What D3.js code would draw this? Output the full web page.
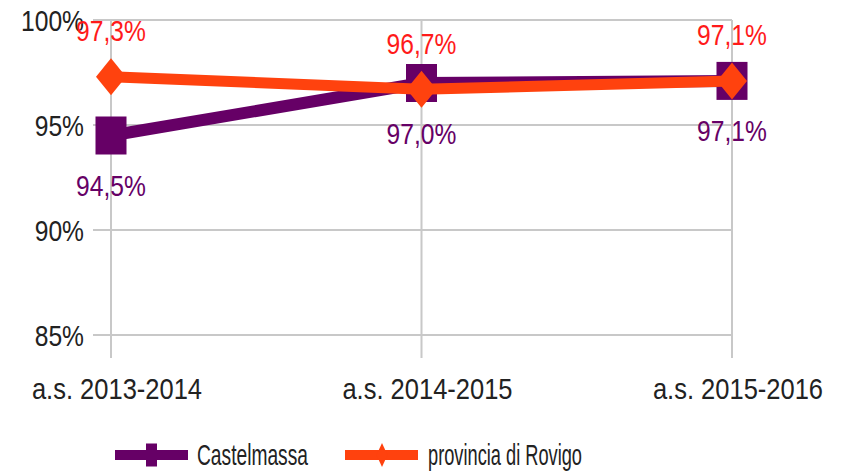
<!DOCTYPE html>
<html>
<head>
<meta charset="utf-8">
<script src="https://cdn.jsdelivr.net/npm/d3@7"></script>
<style>
  body { margin: 0; background: #fff; }
  text { font-family: "Liberation Sans Narrow", "Liberation Sans", Arial, sans-serif; }
</style>
</head>
<body>
<div id="chart"></div>
<script>
// chart data
let categories = ["a.s. 2013-2014", "a.s. 2014-2015", "a.s. 2015-2016"];
let castelmassa = [94.5, 97.0, 97.1];
let rovigo = [97.3, 96.7, 97.1];
let yTicks = [85, 90, 95, 100];
let seriesNames = ["Castelmassa", "provincia di Rovigo"];

const width = 846, height = 472;
const purple = "#660066", orange = "#ff420e";
const grid = "#c8c8c8";

let svg = d3.select("#chart").append("svg")
    .attr("width", width)
    .attr("height", height);

// squeeze text horizontally (narrow font look)
function narrow(sel, k) {
    sel.each(function() {
        let w = this.getComputedTextLength();
        d3.select(this)
            .attr("textLength", w * k)
            .attr("lengthAdjust", "spacingAndGlyphs");
    });
}

let x = d3.scalePoint()
    .domain(categories)
    .range([111, 732]);

let y = d3.scaleLinear()
    .domain([85, 100])
    .range([335, 20]);

// horizontal gridlines
svg.append("g")
    .selectAll("line")
    .data(yTicks)
    .join("line")
    .attr("x1", 93)
    .attr("x2", x.range()[1])
    .attr("y1", d => y(d))
    .attr("y2", d => y(d))
    .attr("stroke", grid)
    .attr("stroke-width", 2);

// vertical gridlines at categories
svg.append("g")
    .selectAll("line")
    .data(categories)
    .join("line")
    .attr("x1", d => x(d))
    .attr("x2", d => x(d))
    .attr("y1", y(100))
    .attr("y2", y(85) + 23)
    .attr("stroke", grid)
    .attr("stroke-width", 2);

// y tick labels
svg.append("g")
    .selectAll("text")
    .data(yTicks)
    .join("text")
    .attr("x", 84)
    .attr("y", d => y(d))
    .attr("dy", "0.35em")
    .attr("text-anchor", "end")
    .attr("font-size", 30)
    .attr("fill", "#222")
    .text(d => d + "%")
    .call(narrow, 0.82);

// category labels
svg.append("g")
    .selectAll("text")
    .data(categories)
    .join("text")
    .attr("x", d => x(d) + 6)
    .attr("y", 399)
    .attr("text-anchor", "middle")
    .attr("font-size", 30)
    .attr("fill", "#222")
    .text(d => d)
    .call(narrow, 0.85);

let line = d3.line()
    .x((d, i) => x(categories[i]))
    .y(d => y(d));

// Castelmassa: line + square markers
svg.append("path")
    .datum(castelmassa)
    .attr("d", line)
    .attr("fill", "none")
    .attr("stroke", purple)
    .attr("stroke-width", 12);

svg.append("g")
    .selectAll("rect")
    .data(castelmassa)
    .join("rect")
    .attr("x", (d, i) => x(categories[i]) - 15.5)
    .attr("y", d => y(d) - 19)
    .attr("width", 31)
    .attr("height", 38)
    .attr("fill", purple);

// Rovigo: line + diamond markers
svg.append("path")
    .datum(rovigo)
    .attr("d", line)
    .attr("fill", "none")
    .attr("stroke", orange)
    .attr("stroke-width", 11);

function diamond(cx, cy, w, h) {
    return `M${cx},${cy - h / 2}L${cx + w / 2},${cy}L${cx},${cy + h / 2}L${cx - w / 2},${cy}Z`;
}

svg.append("g")
    .selectAll("path")
    .data(rovigo)
    .join("path")
    .attr("d", (d, i) => diamond(x(categories[i]), y(d), 30, 37))
    .attr("fill", orange);

let fmt = v => v.toFixed(1).replace(".", ",") + "%";

// data labels
svg.append("g")
    .selectAll("text")
    .data(castelmassa)
    .join("text")
    .attr("x", (d, i) => x(categories[i]))
    .attr("y", d => y(d) + 50)
    .attr("dy", "0.35em")
    .attr("text-anchor", "middle")
    .attr("font-size", 30)
    .attr("fill", purple)
    .text(fmt)
    .call(narrow, 0.82);

svg.append("g")
    .selectAll("text")
    .data(rovigo)
    .join("text")
    .attr("x", (d, i) => x(categories[i]))
    .attr("y", d => y(d) - 46)
    .attr("dy", "0.35em")
    .attr("text-anchor", "middle")
    .attr("font-size", 30)
    .attr("fill", "#ff1a1a")
    .text(fmt)
    .call(narrow, 0.82);

// legend
let legend = svg.append("g").attr("transform", "translate(0,455)");

legend.append("line")
    .attr("x1", 115).attr("x2", 188)
    .attr("stroke", purple).attr("stroke-width", 10);
legend.append("rect")
    .attr("x", 146).attr("y", -11.5)
    .attr("width", 11).attr("height", 23)
    .attr("fill", purple);
legend.append("text")
    .attr("x", 197).attr("dy", "0.35em")
    .attr("font-size", 29)
    .attr("textLength", 111)
    .attr("lengthAdjust", "spacingAndGlyphs")
    .attr("fill", "#222")
    .text(seriesNames[0]);

legend.append("line")
    .attr("x1", 345).attr("x2", 418)
    .attr("stroke", orange).attr("stroke-width", 10);
legend.append("path")
    .attr("d", diamond(382, 0, 11, 24))
    .attr("fill", orange);
legend.append("text")
    .attr("x", 428).attr("dy", "0.35em")
    .attr("font-size", 29)
    .attr("textLength", 154)
    .attr("lengthAdjust", "spacingAndGlyphs")
    .attr("fill", "#222")
    .text(seriesNames[1]);
</script>
</body>
</html>
